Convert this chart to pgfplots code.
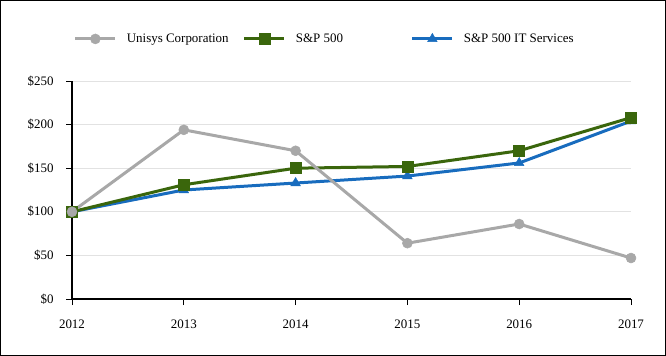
\documentclass[border=0pt]{standalone}
\usepackage{fontspec}
\setmainfont{Liberation Serif}
\usepackage{pgfplots}
\pgfplotsset{compat=1.18}
\definecolor{unigray}{RGB}{168,168,168}
\definecolor{spgreen}{RGB}{58,102,12}
\definecolor{itblue}{RGB}{24,108,190}
\definecolor{gridgray}{RGB}{226,226,226}
\begin{document}
\fontsize{13}{15}\selectfont
\begin{tikzpicture}
\useasboundingbox (-72bp,-57bp) rectangle (594bp,299bp);
\draw[line width=1.5bp] (-71.25bp,-56.25bp) rectangle (593.25bp,298.25bp);
\begin{axis}[
 at={(0,0)}, anchor=south west,
 scale only axis, width=559bp, height=218bp,
 xmin=2012, xmax=2017, ymin=0, ymax=250,
 xtick={2012,2013,2014,2015,2016,2017},
 xticklabels={2012,2013,2014,2015,2016,2017},
 ytick={0,50,100,150,200,250},
 yticklabels={\$0,\$50,\$100,\$150,\$200,\$250},
 axis lines*=left, axis line style={-, black, line width=1.3bp},
 tick align=outside, major tick length=6bp,
 tick style={black, line width=0.9bp},
 ymajorgrids, grid style={gridgray, line width=0.9bp},
 clip=false,
 ticklabel style={font=\fontsize{13}{15}\selectfont},
 xticklabel style={yshift=-10bp},
 yticklabel style={xshift=-8bp},
 legend style={at={(axis description cs:0.003,1.193)}, anchor=west,
   draw=none, fill=none, inner sep=0pt, font=\fontsize{13}{15}\selectfont,
   /tikz/every even column/.append style={column sep=0pt}},
 legend columns=3,
 legend image code/.code={\draw[mark repeat=2, mark phase=2] plot coordinates {(0bp,0bp) (20bp,0bp) (40bp,0bp)};},
]
\addlegendimage{unigray, line width=3bp, mark=*, mark size=5bp, mark options={solid, fill=unigray, draw=unigray, line width=0.5bp}}
\addlegendentry{\hspace{8bp}\makebox[114bp][l]{Unisys Corporation}}
\addlegendimage{spgreen, line width=3bp, mark=square*, mark size=5.5bp, mark options={solid, fill=spgreen, draw=spgreen, line width=0.5bp}}
\addlegendentry{\hspace{8bp}\makebox[113bp][l]{S\&P 500}}
\addlegendimage{itblue, line width=3bp, mark=triangle*, mark size=5.5bp, mark options={solid, fill=itblue, draw=itblue, line width=0.5bp}}
\addlegendentry{\hspace{8bp}S\&P 500 IT Services}

\addplot[forget plot, itblue, line width=3bp, mark=triangle*, mark size=5.5bp, mark options={solid, fill=itblue, draw=itblue, line width=0.5bp}]
 coordinates {(2012,100) (2013,125) (2014,133) (2015,141) (2016,156) (2017,204)};
\addplot[forget plot, spgreen, line width=3bp, mark=square*, mark size=5.5bp, mark options={solid, fill=spgreen, draw=spgreen, line width=0.5bp}]
 coordinates {(2012,100) (2013,131) (2014,150) (2015,152) (2016,170) (2017,208)};
\addplot[forget plot, unigray, line width=3bp, mark=*, mark size=5bp, mark options={solid, fill=unigray, draw=unigray, line width=0.5bp}]
 coordinates {(2012,100) (2013,194) (2014,170) (2015,64) (2016,86) (2017,47)};
\end{axis}
\end{tikzpicture}
\end{document}
